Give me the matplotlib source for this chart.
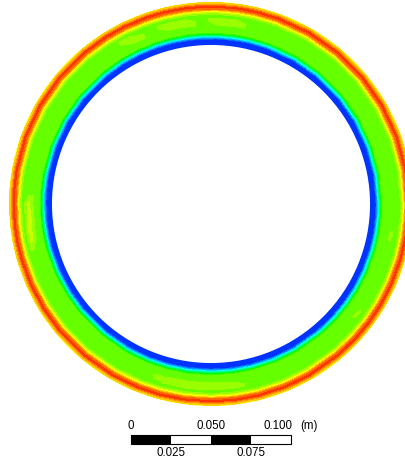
"""
Annular gap contour: one cross-section of the flow between two cylinders,
banded rainbow colouring plus a metric scale bar underneath.
"""

import matplotlib
matplotlib.use("Agg")
import matplotlib.pyplot as plt
import matplotlib.tri as mtri
import numpy as np
from matplotlib.colors import ListedColormap, hsv_to_rgb
from matplotlib.patches import Rectangle, Wedge


# gap geometry (m)
r_inner = 0.0994
r_outer = 0.1263

# radial stations across the gap and the normalised contour value at each
r_stations = [0.0980, 0.0994, 0.1031, 0.1044, 0.1063, 0.1075, 0.1100, 0.1144,
              0.1175, 0.1191, 0.1206, 0.1219, 0.1234, 0.1247, 0.1266, 0.1280]
r_values = [0.06, 0.06, 0.09, 0.22, 0.50, 0.62, 0.62, 0.62,
            0.62, 0.67, 0.78, 0.90, 0.97, 0.86, 0.77, 0.77]

# angular stations (deg, ccw from +x) and value of the mid-gap station there
theta_deg = [0, 10, 20, 30, 40, 50, 60, 70, 77, 82, 88, 93, 98, 104, 109, 116,
             122, 130, 140, 150, 160, 170, 176, 180, 186, 191, 196, 204, 212,
             220, 230, 240, 248, 255, 262, 270, 277, 284, 292, 300, 310, 317,
             323, 329, 336, 344, 350, 356]
mid_gap_values = [0.62, 0.62, 0.62, 0.62, 0.62, 0.62, 0.62, 0.62, 0.62, 0.69,
                  0.69, 0.62, 0.70, 0.69, 0.62, 0.70, 0.62, 0.62, 0.62, 0.62,
                  0.62, 0.62, 0.62, 0.72, 0.74, 0.72, 0.62, 0.62, 0.62, 0.62,
                  0.62, 0.62, 0.62, 0.68, 0.70, 0.69, 0.68, 0.62, 0.62, 0.62,
                  0.62, 0.62, 0.66, 0.62, 0.62, 0.62, 0.66, 0.62]
mid_gap_row = 7

# scale bar
scale_ticks = [0, 0.025, 0.05, 0.075, 0.1]
scale_top_labels = ["0", "0.050", "0.100"]
scale_bottom_labels = ["0.025", "0.075"]
scale_unit = "(m)"

n_bands = 20
font = ["Liberation Sans", "DejaVu Sans"]


def band_colormap(n):
    """Blue -> cyan -> green -> yellow -> red, one flat colour per band."""
    starts = np.arange(n) / n
    hsv = np.column_stack([(1.0 - starts) * 240.0 / 360.0,
                           np.ones(n), np.ones(n)])
    return ListedColormap(hsv_to_rgb(hsv))


def build_mesh():
    r = np.array(r_stations)
    th = np.radians(theta_deg)
    n_r, n_t = len(r), len(th)

    rr, tt = np.meshgrid(r, th, indexing="ij")
    x = (rr * np.cos(tt)).ravel()
    y = (rr * np.sin(tt)).ravel()

    z = np.tile(np.array(r_values)[:, None], (1, n_t))
    z[mid_gap_row, :] = mid_gap_values

    triangles = []
    for i in range(n_r - 1):
        for j in range(n_t):
            j2 = (j + 1) % n_t
            a, b = i * n_t + j, i * n_t + j2
            c, d = (i + 1) * n_t + j2, (i + 1) * n_t + j
            triangles.append([a, b, c])
            triangles.append([a, c, d])
    return mtri.Triangulation(x, y, np.array(triangles)), z.ravel()


def draw_scale_bar(ax):
    x0 = -0.05
    y_bot, y_top = -0.1498, -0.1444
    for k in range(len(scale_ticks) - 1):
        color = "black" if k % 2 == 0 else "white"
        ax.add_patch(Rectangle((x0 + scale_ticks[k], y_bot),
                               scale_ticks[k + 1] - scale_ticks[k], y_top - y_bot,
                               facecolor=color, edgecolor="none"))
    ax.add_patch(Rectangle((x0, y_bot), scale_ticks[-1], y_top - y_bot,
                           facecolor="none", edgecolor="black", linewidth=0.8))

    y_lab_top = -0.1388
    y_lab_bot = -0.1558
    kw = dict(fontsize=8.3, family=font, color="black", va="center")
    ax.text(x0 + scale_ticks[0], y_lab_top, scale_top_labels[0], ha="center", **kw)
    ax.text(x0 + scale_ticks[2], y_lab_top, scale_top_labels[1], ha="center", **kw)
    ax.text(x0 + scale_ticks[4] + 0.0012, y_lab_top, scale_top_labels[2], ha="right", **kw)
    ax.text(x0 + scale_ticks[4] + 0.0056, y_lab_top, scale_unit, ha="left", **kw)
    ax.text(x0 + scale_ticks[1], y_lab_bot, scale_bottom_labels[0], ha="center", **kw)
    ax.text(x0 + scale_ticks[3], y_lab_bot, scale_bottom_labels[1], ha="center", **kw)


def main():
    fig = plt.figure(figsize=(4.05, 4.61), dpi=100)
    ax = fig.add_axes([0, 0, 1, 1])
    ax.set_xlim(-211 / 1600, 194 / 1600)
    ax.set_ylim(-257 / 1600, 204 / 1600)
    ax.set_aspect("equal")
    ax.axis("off")

    tri, z = build_mesh()
    levels = np.linspace(0.0, 1.0, n_bands + 1)
    cs = ax.tricontourf(tri, z, levels=levels, cmap=band_colormap(n_bands))

    ring = Wedge((0, 0), r_outer, 0, 360, width=r_outer - r_inner,
                 transform=ax.transData)
    cs.set_clip_path(ring)

    draw_scale_bar(ax)

    fig.savefig("out.png", dpi=100)
    plt.close(fig)


if __name__ == "__main__":
    main()
